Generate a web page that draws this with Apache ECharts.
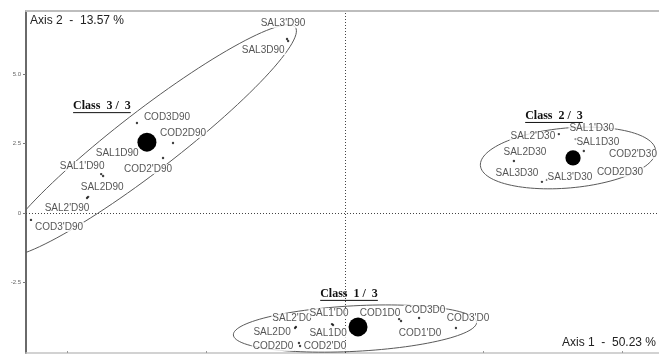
<!DOCTYPE html>
<html>
<head>
<meta charset="utf-8">
<script src="https://cdn.jsdelivr.net/npm/echarts@6/dist/echarts.min.js"></script>
<style>
  html, body { margin: 0; padding: 0; background: #fff; }
  #chart { width: 659px; height: 354px; }
</style>
</head>
<body>
<div id="chart"></div>
<script>
// Observations projected on the first factorial plane
const pointNames = [
  "SAL3'D90", 'SAL3D90', 'COD3D90', 'COD2D90', 'SAL1D90', "SAL1'D90", "COD2'D90", 'SAL2D90', "SAL2'D90", "COD3'D90",
  "SAL1'D30", "SAL2'D30", 'SAL1D30', 'SAL2D30', "COD2'D30", 'SAL3D30', "SAL3'D30", 'COD2D30',
  "SAL2'D0", "SAL1'D0", 'COD1D0', 'COD3D0', "COD3'D0", 'SAL2D0', 'SAL1D0', "COD1'D0", 'COD2D0', "COD2'D0"
];
const axis1Coord = [
  -2.09, -2.05, -7.50, -6.20, -8.79, -8.72, -6.56, -9.26, -9.30, -11.32,
  8.32, 7.71, 8.61, 6.09, 10.20, 7.10, 7.28, 9.84,
  -1.77, -0.47, 1.95, 2.67, 4.00, -1.80, -0.43, 2.02, -1.66, -1.62
];
const axis2Coord = [
  6.26, 6.19, 3.24, 2.52, 1.40, 1.33, 1.98, 0.58, 0.54, -0.25,
  2.66, 2.84, 2.23, 1.87, 2.12, 1.12, 1.19, 1.51,
  -4.10, -4.00, -3.82, -3.78, -4.14, -4.14, -4.03, -3.89, -4.68, -4.79
];
const pointClass = [
  3, 3, 3, 3, 3, 3, 3, 3, 3, 3,
  2, 2, 2, 2, 2, 2, 2, 2,
  1, 1, 1, 1, 1, 1, 1, 1, 1, 1
];
// where each name sits relative to its point, in pixels
const labelShift = [
  [-4, -16], [-25, 9], [30, -6], [10, -10], [16, -21], [-21, -10], [-15, 11], [14, -10], [-20, 10], [28, 7],
  [16, -11], [-26, 2], [14, -9], [11, -9], [5, 0], [-25, -9], [23, -3], [2, 1],
  [-4, -9], [-3, -11], [-19, -6], [6, -8], [12, -10], [-23, 4], [-5, 8], [19, 12], [-26, 3], [25, 0]
];

// Class centres
const classIds = [1, 2, 3];
const classTitles = ['Class  1 /  3', 'Class  2 /  3', 'Class  3 /  3'];
const classAxis1 = [0.47, 8.22, -7.14];
const classAxis2 = [-4.10, 1.98, 2.55];
const classTitleShift = [[-9, -33], [-19, -42], [-45, -36]];

// Class ellipses: centre, semi-axes (axis units), tilt (degrees)
const ellipseAxis1 = [0.36, 8.04, -7.10];
const ellipseAxis2 = [-4.16, 1.98, 2.60];
const ellipseMajor = [4.39, 3.17, 6.70];
const ellipseMinor = [0.82, 1.08, 1.08];
const ellipseTilt = [3, 5, 37.6];

const xTicks = [-10, -5, 0, 5, 10];
const yTicks = [-2.5, 0, 2.5, 5];
const axis1Title = 'Axis 1  -  50.23 %';
const axis2Title = 'Axis 2  -  13.57 %';

const classSize = classIds.map(c => pointClass.filter(k => k === c).length);

const measureCtx = document.createElement('canvas').getContext('2d');
const titleFont = 'bold 12px "Liberation Serif", "Times New Roman", serif';
measureCtx.font = titleFont;

const chart = echarts.init(document.getElementById('chart'), null, { renderer: 'canvas' });

const pointData = pointNames.map((name, i) => ({
  name: name,
  value: [axis1Coord[i], axis2Coord[i]]
}));

chart.setOption({
  animation: false,
  backgroundColor: '#fff',
  grid: { left: 26, right: 0, top: 11, bottom: 1 },
  xAxis: [{
    type: 'value', min: -11.5, max: 11.32, position: 'bottom',
    axisLine: { show: true, onZero: false, lineStyle: { color: '#c4c4c4', width: 1.5 } },
    axisTick: { show: true, inside: true, length: 2, customValues: xTicks, lineStyle: { color: '#999' } },
    axisLabel: { show: false },
    splitLine: { show: false }
  }, {
    type: 'value', min: -11.5, max: 11.32, position: 'top',
    axisLine: { show: true, onZero: false, lineStyle: { color: '#bdbdbd', width: 2 } },
    axisTick: { show: false }, axisLabel: { show: false }, splitLine: { show: false }
  }],
  yAxis: {
    type: 'value', min: -5.04, max: 7.27,
    axisLine: { show: true, onZero: false, lineStyle: { color: '#6a6a6a', width: 2 } },
    axisTick: { show: true, length: 3, customValues: yTicks, lineStyle: { color: '#777' } },
    axisLabel: {
      customValues: yTicks, margin: 5, fontSize: 6, color: '#666',
      fontFamily: 'Liberation Sans, Arial, sans-serif',
      formatter: v => (v === 0 ? '0' : v.toFixed(1))
    },
    splitLine: { show: false }
  },
  graphic: [
    { type: 'text', left: 30, top: 15, z: 100,
      style: { text: axis2Title, font: '12px "Liberation Sans", Arial, sans-serif', fill: '#222' } },
    { type: 'text', right: 3, top: 337, z: 100,
      style: { text: axis1Title, font: '12px "Liberation Sans", Arial, sans-serif', fill: '#222' } }
  ],
  series: [
    {
      // class ellipses
      type: 'custom', z: 1, clip: true, silent: true,
      data: ellipseAxis1.map((x, i) => [x, ellipseAxis2[i]]),
      renderItem: (params, api) => {
        const i = params.dataIndex;
        const t = ellipseTilt[i] * Math.PI / 180;
        const pts = [];
        for (let k = 0; k <= 120; k++) {
          const f = k / 120 * 2 * Math.PI;
          const u = ellipseMajor[i] * Math.cos(f);
          const v = ellipseMinor[i] * Math.sin(f);
          pts.push(api.coord([
            ellipseAxis1[i] + u * Math.cos(t) - v * Math.sin(t),
            ellipseAxis2[i] + u * Math.sin(t) + v * Math.cos(t)
          ]));
        }
        return {
          type: 'polyline', shape: { points: pts },
          style: { fill: null, stroke: '#5a5a5a', lineWidth: 1 }
        };
      }
    },
    {
      // observations
      type: 'scatter', z: 3, silent: true,
      symbol: 'circle', symbolSize: 2.4,
      itemStyle: { color: '#111' },
      label: {
        show: true, position: 'inside', formatter: '{b}',
        color: '#2b2b2b', fontSize: 10, fontFamily: 'Liberation Sans, Arial, sans-serif',
        backgroundColor: '#fff', padding: [0, 1]
      },
      labelLayout: p => ({
        dx: labelShift[p.dataIndex][0],
        dy: labelShift[p.dataIndex][1],
        hideOverlap: false
      }),
      data: pointData,
      markLine: {
        silent: true, symbol: 'none', z: 2,
        label: { show: false },
        lineStyle: { type: [1, 2], color: '#444', width: 1 },
        data: [{ xAxis: 0 }, { yAxis: 0 }]
      }
    },
    {
      // class centres with their titles
      type: 'custom', z: 4, silent: true, clip: false,
      data: classAxis1.map((x, i) => [x, classAxis2[i]]),
      renderItem: (params, api) => {
        const i = params.dataIndex;
        const p = api.coord([classAxis1[i], classAxis2[i]]);
        const r = classSize[i] * 0.95;
        const tx = p[0] + classTitleShift[i][0];
        const ty = p[1] + classTitleShift[i][1];
        const w = measureCtx.measureText(classTitles[i]).width;
        return {
          type: 'group',
          children: [
            { type: 'circle', shape: { cx: p[0], cy: p[1], r: r }, style: { fill: '#000' } },
            { type: 'text', style: {
                x: tx, y: ty, text: classTitles[i], font: titleFont, fill: '#111',
                align: 'center', verticalAlign: 'middle' } },
            { type: 'line', shape: { x1: tx - w / 2, y1: ty + 6.5, x2: tx + w / 2, y2: ty + 6.5 },
              style: { stroke: '#111', lineWidth: 1 } }
          ]
        };
      }
    }
  ]
});
</script>
</body>
</html>
